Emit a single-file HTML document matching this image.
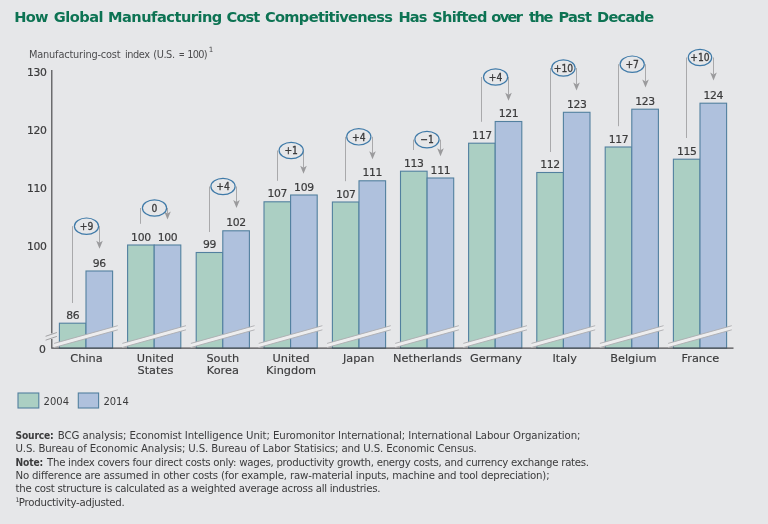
<!DOCTYPE html>
<html lang="en"><head><meta charset="utf-8"><title>How Global Manufacturing Cost Competitiveness Has Shifted over the Past Decade</title>
<style>
html,body{margin:0;padding:0;background:#e6e7e9;}
body{width:768px;height:524px;overflow:hidden;}
svg{display:block;filter:blur(0.35px);}
text{font-family:"DejaVu Sans", "Liberation Sans", sans-serif;fill:#3b3b3c;}
.title{font-family:"DejaVu Sans", "Liberation Sans", sans-serif;font-weight:bold;fill:#0d7353;font-size:14.6px;}
.sub{font-size:9.8px;fill:#4c4c4e;}
.ax{font-size:10.8px;text-anchor:end;letter-spacing:-0.35px;}
.val{font-size:10.8px;text-anchor:middle;letter-spacing:-0.35px;}
.cat{font-size:11.3px;text-anchor:middle;}
.dl{font-family:"DejaVu Sans Condensed", "DejaVu Sans", "Liberation Sans", sans-serif;font-size:10.2px;text-anchor:middle;}
.leg{font-family:"DejaVu Sans Condensed", "DejaVu Sans", "Liberation Sans", sans-serif;font-size:11.1px;}
.fn{font-size:10.2px;}
.dl{stroke:#3b3b3c;stroke-width:0.3px;}
.val,.ax{stroke:#3b3b3c;stroke-width:0.2px;}
.cat{stroke:#3b3b3c;stroke-width:0.15px;}
.b{font-family:"DejaVu Sans Condensed", "DejaVu Sans", "Liberation Sans", sans-serif;font-weight:bold;}
</style></head><body>
<svg width="768" height="524" viewBox="0 0 768 524">
<rect x="0" y="0" width="768" height="524" fill="#e6e7e9"/>
<text class="title" y="22"><tspan x="14.30" textLength="34.10" lengthAdjust="spacing">How</tspan> <tspan x="53.70" textLength="49.90" lengthAdjust="spacing">Global</tspan> <tspan x="108.00" textLength="114.30" lengthAdjust="spacing">Manufacturing</tspan> <tspan x="226.55" textLength="33.75" lengthAdjust="spacing">Cost</tspan> <tspan x="264.90" textLength="128.10" lengthAdjust="spacing">Competitiveness</tspan> <tspan x="398.40" textLength="29.10" lengthAdjust="spacing">Has</tspan> <tspan x="432.20" textLength="55.20" lengthAdjust="spacing">Shifted</tspan> <tspan x="491.30" textLength="31.60" lengthAdjust="spacing">over</tspan> <tspan x="528.90" textLength="24.40" lengthAdjust="spacing">the</tspan> <tspan x="558.40" textLength="33.60" lengthAdjust="spacing">Past</tspan> <tspan x="597.00" textLength="57.25" lengthAdjust="spacing">Decade</tspan></text>
<text class="sub" y="58"><tspan x="29" textLength="91.6" lengthAdjust="spacing">Manufacturing-cost</tspan> <tspan x="125" textLength="25" lengthAdjust="spacing">index</tspan> <tspan x="153.3" textLength="21.7" lengthAdjust="spacing">(U.S.</tspan> <tspan x="178.7" textLength="6" lengthAdjust="spacingAndGlyphs">=</tspan> <tspan x="187.2" textLength="20.3" lengthAdjust="spacing">100)</tspan><tspan x="208.7" y="52" font-size="7.2px">1</tspan></text>
<text class="ax" x="46.6" y="75.7">130</text>
<text class="ax" x="46.6" y="133.5">120</text>
<text class="ax" x="46.6" y="191.5">110</text>
<text class="ax" x="46.6" y="250.1">100</text>
<text class="ax" x="45.5" y="353.4">0</text>
<rect x="59.4" y="323.2" width="26.6" height="25.0" fill="#abcfc3" stroke="#52809f" stroke-width="1.1"/>
<rect x="86.0" y="271.0" width="26.6" height="77.2" fill="#afc1dd" stroke="#52809f" stroke-width="1.1"/>
<rect x="127.6" y="245.0" width="26.6" height="103.2" fill="#abcfc3" stroke="#52809f" stroke-width="1.1"/>
<rect x="154.2" y="245.0" width="26.6" height="103.2" fill="#afc1dd" stroke="#52809f" stroke-width="1.1"/>
<rect x="196.2" y="252.5" width="26.6" height="95.7" fill="#abcfc3" stroke="#52809f" stroke-width="1.1"/>
<rect x="222.8" y="230.8" width="26.6" height="117.4" fill="#afc1dd" stroke="#52809f" stroke-width="1.1"/>
<rect x="264.0" y="201.8" width="26.6" height="146.4" fill="#abcfc3" stroke="#52809f" stroke-width="1.1"/>
<rect x="290.6" y="195.0" width="26.6" height="153.2" fill="#afc1dd" stroke="#52809f" stroke-width="1.1"/>
<rect x="332.4" y="202.0" width="26.6" height="146.2" fill="#abcfc3" stroke="#52809f" stroke-width="1.1"/>
<rect x="359.0" y="180.8" width="26.6" height="167.4" fill="#afc1dd" stroke="#52809f" stroke-width="1.1"/>
<rect x="400.5" y="171.2" width="26.6" height="177.0" fill="#abcfc3" stroke="#52809f" stroke-width="1.1"/>
<rect x="427.1" y="178.0" width="26.6" height="170.2" fill="#afc1dd" stroke="#52809f" stroke-width="1.1"/>
<rect x="468.6" y="143.2" width="26.6" height="205.0" fill="#abcfc3" stroke="#52809f" stroke-width="1.1"/>
<rect x="495.2" y="121.5" width="26.6" height="226.7" fill="#afc1dd" stroke="#52809f" stroke-width="1.1"/>
<rect x="536.8" y="172.5" width="26.6" height="175.7" fill="#abcfc3" stroke="#52809f" stroke-width="1.1"/>
<rect x="563.4" y="112.3" width="26.6" height="235.9" fill="#afc1dd" stroke="#52809f" stroke-width="1.1"/>
<rect x="605.2" y="147.0" width="26.6" height="201.2" fill="#abcfc3" stroke="#52809f" stroke-width="1.1"/>
<rect x="631.8" y="109.2" width="26.6" height="239.0" fill="#afc1dd" stroke="#52809f" stroke-width="1.1"/>
<rect x="673.4" y="159.2" width="26.6" height="189.0" fill="#abcfc3" stroke="#52809f" stroke-width="1.1"/>
<rect x="700.0" y="103.2" width="26.6" height="245.0" fill="#afc1dd" stroke="#52809f" stroke-width="1.1"/>
<path d="M51.8 70V333.5M51.8 339V348.2H733.5" fill="none" stroke="#4e4e50" stroke-width="1.2"/>
<rect x="50" y="333.8" width="4" height="5" fill="#e6e7e9"/>
<path d="M45.6 336.3L56.9 332.5M45.6 340.2L56.9 336.4" fill="none" stroke="#9a9a9c" stroke-width="0.9"/>
<path d="M54.1 343.4L117.8 325.7L117.8 329.8L54.1 347.5Z" fill="#ededee"/>
<path d="M54.1 343.4L117.8 325.7M54.1 347.5L117.8 329.8" fill="none" stroke="#adadb0" stroke-width="0.9"/>
<path d="M122.3 343.4L186.0 325.7L186.0 329.8L122.3 347.5Z" fill="#ededee"/>
<path d="M122.3 343.4L186.0 325.7M122.3 347.5L186.0 329.8" fill="none" stroke="#adadb0" stroke-width="0.9"/>
<path d="M190.9 343.4L254.6 325.7L254.6 329.8L190.9 347.5Z" fill="#ededee"/>
<path d="M190.9 343.4L254.6 325.7M190.9 347.5L254.6 329.8" fill="none" stroke="#adadb0" stroke-width="0.9"/>
<path d="M258.7 343.4L322.4 325.7L322.4 329.8L258.7 347.5Z" fill="#ededee"/>
<path d="M258.7 343.4L322.4 325.7M258.7 347.5L322.4 329.8" fill="none" stroke="#adadb0" stroke-width="0.9"/>
<path d="M327.1 343.4L390.8 325.7L390.8 329.8L327.1 347.5Z" fill="#ededee"/>
<path d="M327.1 343.4L390.8 325.7M327.1 347.5L390.8 329.8" fill="none" stroke="#adadb0" stroke-width="0.9"/>
<path d="M395.2 343.4L458.9 325.7L458.9 329.8L395.2 347.5Z" fill="#ededee"/>
<path d="M395.2 343.4L458.9 325.7M395.2 347.5L458.9 329.8" fill="none" stroke="#adadb0" stroke-width="0.9"/>
<path d="M463.3 343.4L527.0 325.7L527.0 329.8L463.3 347.5Z" fill="#ededee"/>
<path d="M463.3 343.4L527.0 325.7M463.3 347.5L527.0 329.8" fill="none" stroke="#adadb0" stroke-width="0.9"/>
<path d="M531.5 343.4L595.2 325.7L595.2 329.8L531.5 347.5Z" fill="#ededee"/>
<path d="M531.5 343.4L595.2 325.7M531.5 347.5L595.2 329.8" fill="none" stroke="#adadb0" stroke-width="0.9"/>
<path d="M599.9 343.4L663.6 325.7L663.6 329.8L599.9 347.5Z" fill="#ededee"/>
<path d="M599.9 343.4L663.6 325.7M599.9 347.5L663.6 329.8" fill="none" stroke="#adadb0" stroke-width="0.9"/>
<path d="M668.1 343.4L731.8 325.7L731.8 329.8L668.1 347.5Z" fill="#ededee"/>
<path d="M668.1 343.4L731.8 325.7M668.1 347.5L731.8 329.8" fill="none" stroke="#adadb0" stroke-width="0.9"/>
<text class="val" x="72.7" y="318.7">86</text>
<text class="val" x="99.3" y="266.5">96</text>
<text class="val" x="140.9" y="240.5">100</text>
<text class="val" x="167.5" y="240.5">100</text>
<text class="val" x="209.5" y="248.0">99</text>
<text class="val" x="236.1" y="226.3">102</text>
<text class="val" x="277.3" y="197.3">107</text>
<text class="val" x="303.9" y="190.5">109</text>
<text class="val" x="345.7" y="197.5">107</text>
<text class="val" x="372.3" y="176.3">111</text>
<text class="val" x="413.8" y="166.7">113</text>
<text class="val" x="440.4" y="173.5">111</text>
<text class="val" x="481.9" y="138.7">117</text>
<text class="val" x="508.5" y="117.0">121</text>
<text class="val" x="550.1" y="168.0">112</text>
<text class="val" x="576.7" y="107.8">123</text>
<text class="val" x="618.5" y="142.5">117</text>
<text class="val" x="645.1" y="104.7">123</text>
<text class="val" x="686.7" y="154.7">115</text>
<text class="val" x="713.3" y="98.7">124</text>
<path d="M72.5 303.0V226.2" fill="none" stroke="#a9a9ab" stroke-width="1"/>
<path d="M99.5 226.2V242.8" fill="none" stroke="#a9a9ab" stroke-width="1"/>
<path d="M96.2 240.8L99.5 242.8L102.8 240.8L99.5 248.8Z" fill="#9a9a9c"/>
<ellipse cx="86.5" cy="226.2" rx="12.1" ry="8.2" fill="#e6e7e9" stroke="#3f7aa8" stroke-width="1.2"/>
<text class="dl" x="86.5" y="230.0">+9</text>
<path d="M140.5 223.8V208.0" fill="none" stroke="#a9a9ab" stroke-width="1"/>
<path d="M167.5 208.0V213.5" fill="none" stroke="#a9a9ab" stroke-width="1"/>
<path d="M164.2 211.5L167.5 213.5L170.8 211.5L167.5 219.5Z" fill="#9a9a9c"/>
<ellipse cx="154.5" cy="208.0" rx="12.1" ry="8.2" fill="#e6e7e9" stroke="#3f7aa8" stroke-width="1.2"/>
<text class="dl" x="154.5" y="211.8">0</text>
<path d="M209.5 232.0V186.5" fill="none" stroke="#a9a9ab" stroke-width="1"/>
<path d="M236.5 186.5V202.0" fill="none" stroke="#a9a9ab" stroke-width="1"/>
<path d="M233.2 200.0L236.5 202.0L239.8 200.0L236.5 208.0Z" fill="#9a9a9c"/>
<ellipse cx="223.0" cy="186.5" rx="12.1" ry="8.2" fill="#e6e7e9" stroke="#3f7aa8" stroke-width="1.2"/>
<text class="dl" x="223.0" y="190.3">+4</text>
<path d="M277.5 180.8V150.5" fill="none" stroke="#a9a9ab" stroke-width="1"/>
<path d="M303.5 150.5V167.8" fill="none" stroke="#a9a9ab" stroke-width="1"/>
<path d="M300.2 165.8L303.5 167.8L306.8 165.8L303.5 173.8Z" fill="#9a9a9c"/>
<ellipse cx="291.2" cy="150.5" rx="12.1" ry="8.2" fill="#e6e7e9" stroke="#3f7aa8" stroke-width="1.2"/>
<text class="dl" x="291.2" y="154.3">+1</text>
<path d="M345.5 181.2V136.8" fill="none" stroke="#a9a9ab" stroke-width="1"/>
<path d="M372.5 136.8V153.2" fill="none" stroke="#a9a9ab" stroke-width="1"/>
<path d="M369.2 151.2L372.5 153.2L375.8 151.2L372.5 159.2Z" fill="#9a9a9c"/>
<ellipse cx="358.8" cy="136.8" rx="12.1" ry="8.2" fill="#e6e7e9" stroke="#3f7aa8" stroke-width="1.2"/>
<text class="dl" x="358.8" y="140.6">+4</text>
<path d="M413.5 150.0V139.6" fill="none" stroke="#a9a9ab" stroke-width="1"/>
<path d="M440.5 139.6V150.2" fill="none" stroke="#a9a9ab" stroke-width="1"/>
<path d="M437.2 148.2L440.5 150.2L443.8 148.2L440.5 156.2Z" fill="#9a9a9c"/>
<ellipse cx="427.0" cy="139.6" rx="12.1" ry="8.2" fill="#e6e7e9" stroke="#3f7aa8" stroke-width="1.2"/>
<text class="dl" x="427.0" y="143.4">−1</text>
<path d="M481.5 121.8V77.0" fill="none" stroke="#a9a9ab" stroke-width="1"/>
<path d="M508.5 77.0V94.8" fill="none" stroke="#a9a9ab" stroke-width="1"/>
<path d="M505.2 92.8L508.5 94.8L511.8 92.8L508.5 100.8Z" fill="#9a9a9c"/>
<ellipse cx="495.6" cy="77.0" rx="12.1" ry="8.2" fill="#e6e7e9" stroke="#3f7aa8" stroke-width="1.2"/>
<text class="dl" x="495.6" y="80.8">+4</text>
<path d="M550.5 152.0V68.0" fill="none" stroke="#a9a9ab" stroke-width="1"/>
<path d="M576.5 68.0V84.5" fill="none" stroke="#a9a9ab" stroke-width="1"/>
<path d="M573.2 82.5L576.5 84.5L579.8 82.5L576.5 90.5Z" fill="#9a9a9c"/>
<ellipse cx="563.4" cy="68.0" rx="11.7" ry="8.2" fill="#e6e7e9" stroke="#3f7aa8" stroke-width="1.2"/>
<text class="dl" x="563.4" y="71.8">+10</text>
<path d="M618.5 126.2V64.2" fill="none" stroke="#a9a9ab" stroke-width="1"/>
<path d="M645.5 64.2V81.5" fill="none" stroke="#a9a9ab" stroke-width="1"/>
<path d="M642.2 79.5L645.5 81.5L648.8 79.5L645.5 87.5Z" fill="#9a9a9c"/>
<ellipse cx="632.2" cy="64.2" rx="12.1" ry="8.2" fill="#e6e7e9" stroke="#3f7aa8" stroke-width="1.2"/>
<text class="dl" x="632.2" y="68.0">+7</text>
<path d="M686.5 138.0V57.5" fill="none" stroke="#a9a9ab" stroke-width="1"/>
<path d="M713.5 57.5V74.5" fill="none" stroke="#a9a9ab" stroke-width="1"/>
<path d="M710.2 72.5L713.5 74.5L716.8 72.5L713.5 80.5Z" fill="#9a9a9c"/>
<ellipse cx="700.0" cy="57.5" rx="11.7" ry="8.2" fill="#e6e7e9" stroke="#3f7aa8" stroke-width="1.2"/>
<text class="dl" x="700.0" y="61.3">+10</text>
<text class="cat" x="86.5" y="362.1">China</text>
<text class="cat" x="155.4" y="362.1">United</text>
<text class="cat" x="155.4" y="374.2">States</text>
<text class="cat" x="222.8" y="362.1">South</text>
<text class="cat" x="222.8" y="374.2">Korea</text>
<text class="cat" x="291.1" y="362.1">United</text>
<text class="cat" x="291.1" y="374.2">Kingdom</text>
<text class="cat" x="358.7" y="362.1">Japan</text>
<text class="cat" x="427.5" y="362.1">Netherlands</text>
<text class="cat" x="496.0" y="362.1">Germany</text>
<text class="cat" x="564.7" y="362.1">Italy</text>
<text class="cat" x="633.4" y="362.1">Belgium</text>
<text class="cat" x="700.4" y="362.1">France</text>
<rect x="18.0" y="393.0" width="20.8" height="15.0" fill="#abcfc3" stroke="#52809f" stroke-width="1.1"/>
<text class="leg" x="43.6" y="405">2004</text>
<rect x="78.3" y="393.0" width="20.3" height="15.0" fill="#afc1dd" stroke="#52809f" stroke-width="1.1"/>
<text class="leg" x="103.4" y="405">2014</text>
<text class="fn b" x="15.5" y="438.8" textLength="38.2" lengthAdjust="spacing">Source:</text>
<text class="fn" x="57.8" y="438.8" textLength="522.7" lengthAdjust="spacing">BCG analysis; Economist Intelligence Unit; Euromonitor International; International Labour Organization;</text>
<text class="fn" x="15.5" y="452.1" textLength="461.3" lengthAdjust="spacing">U.S. Bureau of Economic Analysis; U.S. Bureau of Labor Statisics; and U.S. Economic Census.</text>
<text class="fn b" x="15.5" y="465.5" textLength="27.7" lengthAdjust="spacing">Note:</text>
<text class="fn" x="47.0" y="465.5" textLength="542.1" lengthAdjust="spacing">The index covers four direct costs only: wages, productivity growth, energy costs, and currency exchange rates.</text>
<text class="fn" x="15.5" y="478.9" textLength="534.1" lengthAdjust="spacing">No difference are assumed in other costs (for example, raw-material inputs, machine and tool depreciation);</text>
<text class="fn" x="15.5" y="492.3" textLength="365.0" lengthAdjust="spacing">the cost structure is calculated as a weighted average across all industries.</text>
<text class="fn" x="15.5" y="501.6" font-size="6px" style="font-size:6.2px">1</text>
<text class="fn" x="18.8" y="505.8" textLength="106" lengthAdjust="spacing">Productivity-adjusted.</text>
</svg></body></html>
